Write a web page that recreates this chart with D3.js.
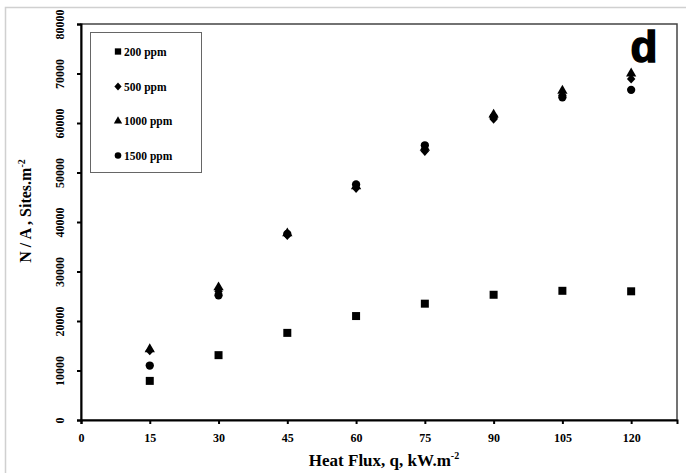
<!DOCTYPE html>
<head>
  <meta charset="utf-8">
  <script src="https://d3js.org/d3.v7.min.js"></script>
  <style>
    body { margin:0; background:#fff; }
    text { font-family: "Liberation Serif", "Times New Roman", serif; font-weight: bold; }
  </style>
</head>
<body>
<script>

/* Data */
var heatFlux = [15, 30, 45, 60, 75, 90, 105, 120];
var ppm200  = [7900, 13100, 17600, 21000, 23500, 25300, 26100, 26000];
var ppm500  = [14000, 26000, 37300, 46800, 54300, 60800, 65600, 68900];
var ppm1000 = [14300, 26800, 37700, 47200, 55000, 61700, 66500, 70000];
var ppm1500 = [11000, 25200, 37600, 47600, 55500, 61200, 65200, 66700];
var seriesNames = ['200 ppm', '500 ppm', '1000 ppm', '1500 ppm'];
var xTicks = [0, 15, 30, 45, 60, 75, 90, 105, 120];
var yTicks = [0, 10000, 20000, 30000, 40000, 50000, 60000, 70000, 80000];

var width = 686, height = 473;
var margin = { top: 24, right: 9, bottom: 53, left: 81 };

var svg = d3.select('body').append('svg')
    .attr('width', width)
    .attr('height', height);

// faint outer frame
svg.append('path')
    .attr('d', 'M5.5,473 L5.5,7.5 L686,7.5')
    .attr('fill', 'none')
    .attr('stroke', '#d0d0d0')
    .attr('stroke-width', 1.5);

var x = d3.scaleLinear().domain([0, 130]).range([margin.left, width - margin.right]);
var y = d3.scaleLinear().domain([0, 80000]).range([height - margin.bottom, margin.top]);

// plot border
svg.append('rect')
    .attr('x', x(0)).attr('y', y(80000))
    .attr('width', x(130) - x(0)).attr('height', y(0) - y(80000))
    .attr('fill', 'none')
    .attr('stroke', '#444')
    .attr('stroke-width', 1.5);

// axes
var xAxis = svg.append('g')
    .attr('transform', 'translate(0,' + y(0) + ')')
    .call(d3.axisBottom(x).tickValues(xTicks).tickSize(4).tickPadding(9));
var yAxis = svg.append('g')
    .attr('transform', 'translate(' + x(0) + ',0)')
    .call(d3.axisLeft(y).tickValues(yTicks).tickSize(4).tickFormat(d3.format('d')));

[xAxis, yAxis].forEach(function(g) {
  g.select('.domain').attr('stroke', '#000').attr('stroke-width', 2);
  g.selectAll('.tick line').attr('stroke', '#000').attr('stroke-width', 2);
  g.selectAll('.tick text')
    .attr('fill', '#000')
    .style('font-size', '12px')
    .style('font-family', '"Liberation Serif", serif')
    .style('font-weight', 'bold');
});

yAxis.selectAll('.tick text')
    .attr('x', null).attr('dy', null)
    .attr('transform', 'translate(-21,0) rotate(-90)')
    .attr('text-anchor', 'middle')
    .attr('dominant-baseline', 'central');

// axis titles
var xt = svg.append('text')
    .attr('x', 384).attr('y', 466)
    .attr('text-anchor', 'middle')
    .style('font-size', '17px');
xt.append('tspan').text('Heat Flux, q, kW.m');
xt.append('tspan').attr('dy', -7).style('font-size', '10px').text('-2');

var yt = svg.append('text')
    .attr('transform', 'translate(31,211) rotate(-90)')
    .attr('text-anchor', 'middle')
    .style('font-size', '16px');
yt.append('tspan').text('N / A , Sites.m');
yt.append('tspan').attr('dy', -6).style('font-size', '10px').text('-2');

// square-ish diamond like the spreadsheet marker
var symbolRhomb = {
  draw: function(context, size) {
    var r = Math.sqrt(size / 2);
    context.moveTo(0, -r * 1.1);
    context.lineTo(r, 0);
    context.lineTo(0, r * 1.1);
    context.lineTo(-r, 0);
    context.closePath();
  }
};

// markers
var shapes = [d3.symbolSquare, symbolRhomb, d3.symbolTriangle, d3.symbolCircle];
var sizes = [64, 36, 46, 54];
var allSeries = [ppm200, ppm500, ppm1000, ppm1500];

allSeries.forEach(function(vals, i) {
  svg.append('g').selectAll('path')
      .data(vals)
      .enter().append('path')
      .attr('d', d3.symbol().type(shapes[i]).size(sizes[i]))
      .attr('transform', function(d, j) { return 'translate(' + x(heatFlux[j]) + ',' + y(d) + ')'; })
      .attr('fill', '#000');
});

// legend
var legend = svg.append('g');
legend.append('rect')
    .attr('x', 90.5).attr('y', 32.5)
    .attr('width', 111).attr('height', 140)
    .attr('fill', '#fff')
    .attr('stroke', '#666')
    .attr('stroke-width', 1);

var legendY = [51.5, 86.5, 121, 155.5];
var legendSizes = [40, 26, 30, 34];
seriesNames.forEach(function(name, i) {
  legend.append('path')
      .attr('d', d3.symbol().type(shapes[i]).size(legendSizes[i]))
      .attr('transform', 'translate(118,' + legendY[i] + ')')
      .attr('fill', '#000');
  legend.append('text')
      .attr('x', 124).attr('y', legendY[i])
      .attr('dominant-baseline', 'central')
      .style('font-size', '11.5px')
      .text(name);
});

// panel label
svg.append('text')
    .attr('x', 644).attr('y', 62)
    .attr('text-anchor', 'middle')
    .style('font-family', '"Liberation Sans", Arial, sans-serif')
    .style('font-weight', 'bold')
    .style('font-size', '44px')
    .attr('stroke', '#000')
    .attr('stroke-width', 1.5)
    .text('d');

</script>
</body>
